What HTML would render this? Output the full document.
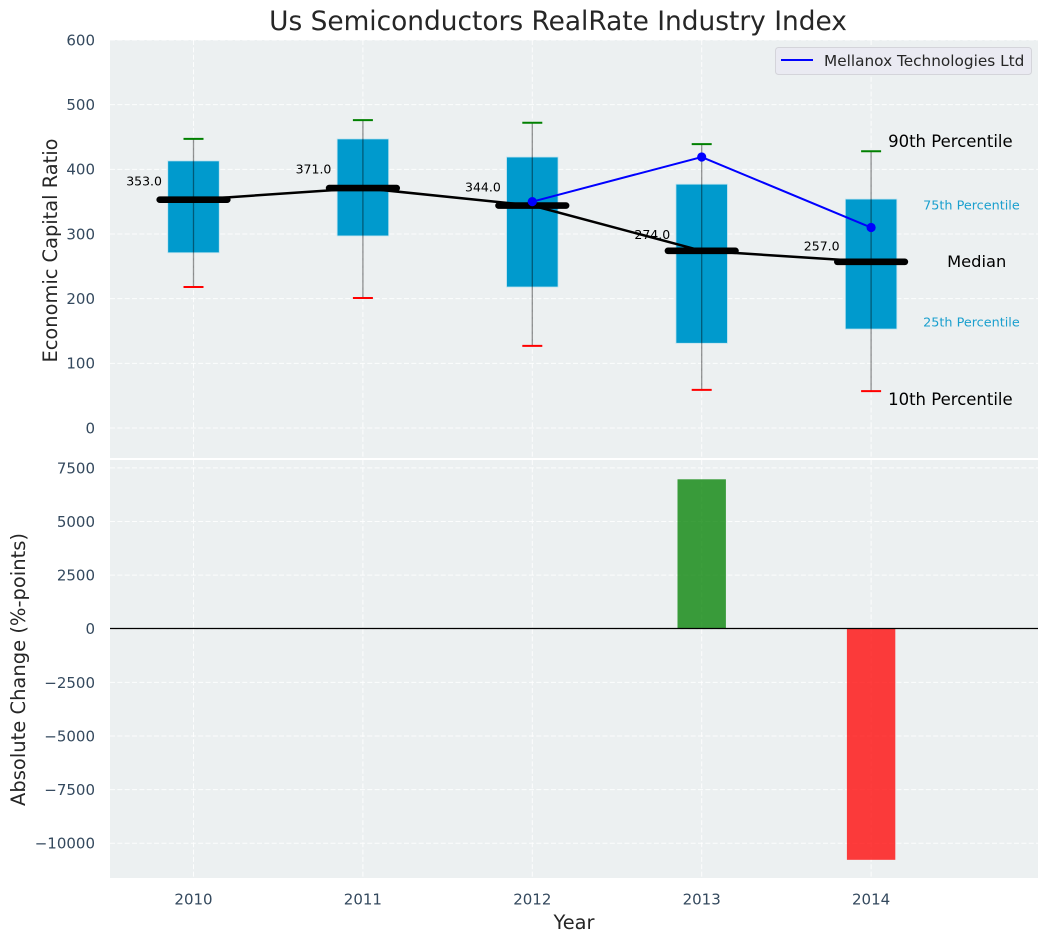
<!DOCTYPE html>
<html>
<head>
<meta charset="utf-8">
<title>Us Semiconductors RealRate Industry Index</title>
<style>
html,body{margin:0;padding:0;background:#fff;width:1048px;height:942px;overflow:hidden}
svg{display:block;font-family:"DejaVu Sans","Liberation Sans",sans-serif}
</style>
</head>
<body>
<svg id="chart" width="1048" height="942" viewBox="0 0 1048 942" xmlns="http://www.w3.org/2000/svg">
  <text x="558" y="30" text-anchor="middle" font-size="26.4" fill="#262626">Us Semiconductors RealRate Industry Index</text>
  <rect x="110" y="40" width="928" height="418" fill="#ecf0f1"/>
  <rect x="110" y="460" width="928" height="418" fill="#ecf0f1"/>
  <g id="grid"></g>
  <g id="marks"></g>
  <g id="labels"></g>
  <text transform="translate(57,250.5) rotate(-90)" text-anchor="middle" font-size="19.4" fill="#262626">Economic Capital Ratio</text>
  <text transform="translate(25,669.5) rotate(-90)" text-anchor="middle" font-size="19.5" fill="#262626">Absolute Change (%-points)</text>
  <text x="574" y="929" text-anchor="middle" font-size="19.4" fill="#262626">Year</text>
  <g>
    <rect x="775.5" y="47.5" width="256" height="27" rx="3" fill="#eaeaf2" stroke="#d4d4da" stroke-width="1"/>
    <line x1="781" y1="60" x2="813" y2="60" stroke="#0000ff" stroke-width="2"/>
    <text x="824" y="66" font-size="15.3" fill="#262626">Mellanox Technologies Ltd</text>
  </g>
</svg>
<script>
const years = [2010, 2011, 2012, 2013, 2014];
const p90 = [447, 476, 472, 439, 428];
const p75 = [413, 447, 419, 377, 354];
const medians = [353, 371, 344, 274, 257];
const p25 = [271, 297, 218, 131, 153];
const p10 = [218, 201, 127, 59, 57];
const companyYears = [2012, 2013, 2014];
const companyValues = [350, 419, 310];
const changeYears = [2013, 2014];
const changeValues = [6970, -10770];
const topTicks = [0, 100, 200, 300, 400, 500, 600];
const bottomTicks = [-10000, -7500, -5000, -2500, 0, 2500, 5000, 7500];

const NS = 'http://www.w3.org/2000/svg';
const gridLayer = document.getElementById('grid');
const marks = document.getElementById('marks');
const labels = document.getElementById('labels');

function xAxis(v) { return 193.5 + (v - 2010) * 169.4; }
function yTop(v) { return 428 - v * 0.6467; }
function yBottom(v) { return 628.8 - v * 0.02145; }

function make(tag, parent, attrs, content) {
  const el = document.createElementNS(NS, tag);
  for (const k in attrs) el.setAttribute(k, attrs[k]);
  if (content !== undefined) el.textContent = content;
  parent.appendChild(el);
  return el;
}

const gridStyle = { stroke: '#ffffff', 'stroke-width': 1, 'stroke-dasharray': '5 2.35', 'stroke-opacity': 0.85 };

topTicks.forEach(function (t) {
  const line = make('line', gridLayer, Object.assign({ x1: 110, x2: 1038, y1: yTop(t), y2: yTop(t) }, gridStyle));
  
  
  const label = make('text', labels, { x: 95, y: yTop(t) + 5.4, 'text-anchor': 'end', 'font-size': 15, fill: '#34495e' }, String(t));
  
  
});

bottomTicks.forEach(function (t) {
  const line = make('line', gridLayer, Object.assign({ x1: 110, x2: 1038, y1: yBottom(t), y2: yBottom(t) }, gridStyle));
  
  
  const text = t < 0 ? '\u2212' + Math.abs(t) : String(t);
  const label = make('text', labels, { x: 95, y: yBottom(t) + 5.4, 'text-anchor': 'end', 'font-size': 15, fill: '#34495e' }, text);
  
  
});

years.forEach(function (y) {
  const upper = make('line', gridLayer, Object.assign({ x1: xAxis(y), x2: xAxis(y), y1: 40, y2: 458 }, gridStyle));
  
  
  const lower = make('line', gridLayer, Object.assign({ x1: xAxis(y), x2: xAxis(y), y1: 460, y2: 878 }, gridStyle));
  
  
  const label = make('text', labels, { x: xAxis(y), y: 904.5, 'text-anchor': 'middle', 'font-size': 15, fill: '#34495e' }, String(y));
  
  
});

years.forEach(function (y, i) {
  const cx = xAxis(y);
  const halfBox = 0.152 * 169.4;
  const halfCap = 10;

  const box = make('rect', marks, {
    x: cx - halfBox, y: yTop(p75[i]), width: 2 * halfBox,
    height: yTop(p25[i]) - yTop(p75[i]),
    fill: '#009acd', stroke: '#bfe3ef', 'stroke-width': 0.8
  });
  
  

  const whisker = make('line', marks, {
    x1: cx, x2: cx, y1: yTop(p90[i]), y2: yTop(p10[i]),
    stroke: '#000000', 'stroke-opacity': 0.42, 'stroke-width': 1.3
  });
  
  

  const capHigh = make('line', marks, {
    x1: cx - halfCap, x2: cx + halfCap, y1: yTop(p90[i]), y2: yTop(p90[i]),
    stroke: '#008000', 'stroke-width': 2
  });
  
  

  const capLow = make('line', marks, {
    x1: cx - halfCap, x2: cx + halfCap, y1: yTop(p10[i]), y2: yTop(p10[i]),
    stroke: '#ff0000', 'stroke-width': 2
  });
  
  
});

const medianPath = make('polyline', marks, {
  points: years.map(function (y, i) { return xAxis(y) + ',' + yTop(medians[i]); }).join(' '),
  fill: 'none', stroke: '#000000', 'stroke-width': 2.5
});



years.forEach(function (y, i) {
  const cx = xAxis(y);
  const my = yTop(medians[i]);
  const bar = make('line', marks, {
    x1: cx - 33.8, x2: cx + 33.8, y1: my, y2: my,
    stroke: '#000000', 'stroke-width': 6.6, 'stroke-linecap': 'round'
  });
  
  
  const label = make('text', marks, {
    x: cx - 31.5, y: yTop(medians[i] * 1.045 + 12.9) + 4.5, 'text-anchor': 'end', 'font-size': 12.5, fill: '#000000'
  }, medians[i].toFixed(1));
  
  
});

const companyLine = make('polyline', marks, {
  points: companyYears.map(function (y, i) { return xAxis(y) + ',' + yTop(companyValues[i]); }).join(' '),
  fill: 'none', stroke: '#0000ff', 'stroke-width': 2
});



companyYears.forEach(function (y, i) {
  const dot = make('circle', marks, { cx: xAxis(y), cy: yTop(companyValues[i]), r: 4.6, fill: '#0000ff' });
  
  
});

changeYears.forEach(function (y, i) {
  const v = changeValues[i];
  const y0 = yBottom(Math.max(v, 0));
  const y1 = yBottom(Math.min(v, 0));
  const bar = make('rect', marks, {
    x: xAxis(y) - 24.2, y: y0, width: 48.4, height: y1 - y0,
    fill: v >= 0 ? '#008000' : '#ff0000', 'fill-opacity': 0.76
  });
  
  
});

const zeroLine = make('line', marks, { x1: 110, x2: 1038, y1: yBottom(0) - 0.3, y2: yBottom(0) - 0.3, stroke: '#000000', 'stroke-width': 1.2 });



const last = years.length - 1;
const lastX = xAxis(years[last]);

const label90 = make('text', marks, { x: lastX + 17, y: yTop(p90[last]) - 4, 'font-size': 16.5, fill: '#000000' }, '90th Percentile');



const label75 = make('text', marks, { x: lastX + 52, y: yTop(p75[last]) + 10.5, 'font-size': 12.8, fill: '#1a9fce' }, '75th Percentile');



const labelMedian = make('text', marks, { x: lastX + 76, y: yTop(medians[last]) + 5, 'font-size': 16.3, fill: '#000000' }, 'Median');



const label25 = make('text', marks, { x: lastX + 52, y: yTop(p25[last]) - 2.5, 'font-size': 12.8, fill: '#1a9fce' }, '25th Percentile');



const label10 = make('text', marks, { x: lastX + 17, y: yTop(p10[last]) + 14, 'font-size': 16.5, fill: '#000000' }, '10th Percentile');


</script>
</body>
</html>
